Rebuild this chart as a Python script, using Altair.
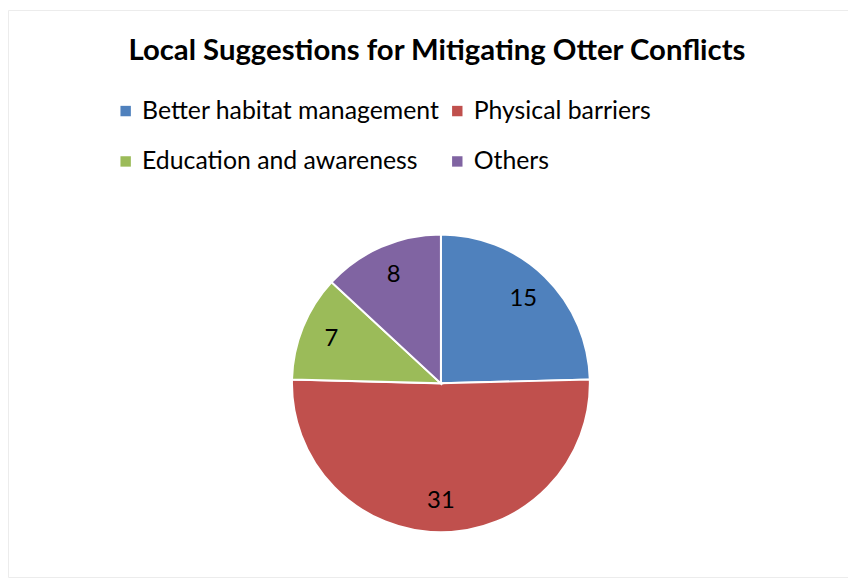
import altair as alt
import pandas as pd

categories = ["Better habitat management", "Physical barriers", "Education and awareness", "Others"]
values = [15, 31, 7, 8]
colors = ["#4F81BD", "#C0504D", "#9BBB59", "#8064A2"]
title_text = ["Local Suggestions for Mitigating Otter Conflicts"]

FONT = "Lato"

df = pd.DataFrame({"category": categories, "value": values, "order": list(range(len(categories)))})
tdf = pd.DataFrame({"t": title_text})

CX, CY = 436, 376

base = alt.Chart(df).encode(
    theta=alt.Theta("value:Q", stack=True),
    order=alt.Order("order:Q"),
)

pie = base.mark_arc(outerRadius=150, stroke="white", strokeWidth=2).encode(
    x=alt.value(CX), y=alt.value(CY),
    color=alt.Color(
        "category:N",
        scale=alt.Scale(domain=categories, range=colors),
        sort=categories,
        legend=alt.Legend(
            orient="none", legendX=106, legendY=89, columns=2, title=None,
            direction="horizontal",
            symbolType="square", symbolSize=110, symbolStrokeWidth=0,
            labelFont=FONT, labelFontSize=25, labelColor="black",
            labelOffset=4, rowPadding=25, columnPadding=5, labelLimit=400,
        ),
    ),
)

labels = base.mark_text(radius=119, fontSize=24, font=FONT, color="black").encode(
    x=alt.value(CX), y=alt.value(CY), text="value:Q"
)

title = alt.Chart(tdf).mark_text(fontSize=29.5, fontWeight="bold", font=FONT, color="black").encode(
    x=alt.value(432), y=alt.value(41), text="t:N"
)

chart = alt.layer(pie, labels, title).properties(
    width=846, height=571, padding=0, autosize="none", background="white"
).configure_view(stroke="#ececec", strokeWidth=1)

chart.save("out.html", embed_options={"renderer": "svg", "actions": False})
